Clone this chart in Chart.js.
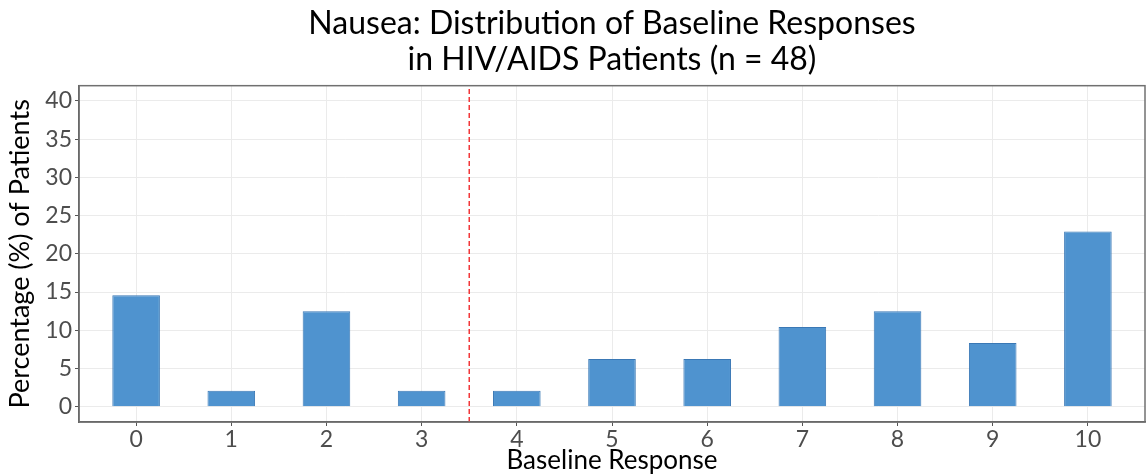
<!DOCTYPE html>
<html>
<head>
<meta charset="utf-8">
<script src="https://cdn.jsdelivr.net/npm/chart.js@4"></script>
<style>
  html, body { margin: 0; padding: 0; background: #fff; }
  #wrap { width: 1146px; height: 476px; }
</style>
</head>
<body>
<div id="wrap"><canvas id="chart1"></canvas></div>
<script>
// baseline response (0-10) vs percentage of patients, n = 48
const responses = [0, 1, 2, 3, 4, 5, 6, 7, 8, 9, 10];
const percents = [14.58, 2.08, 12.5, 2.08, 2.08, 6.25, 6.25, 10.42, 12.5, 8.33, 22.92];
const cutoff = 3.5;
const yMajor = [0, 5, 10, 15, 20, 25, 30, 35, 40];
const yMinor = [2.5, 7.5, 12.5, 17.5, 22.5, 27.5, 32.5, 37.5];
const titleLines = ['Nausea: Distribution of Baseline Responses', 'in HIV/AIDS Patients (n = 48)'];

const FONT = 'Lato, "Open Sans", sans-serif';

// panel border like ggplot
const panelBorder = {
  id: 'panelBorder',
  afterDraw(chart) {
    const a = chart.chartArea, c = chart.ctx;
    c.save();
    c.strokeStyle = '#707070';
    c.lineWidth = 1.5;
    c.strokeRect(a.left, a.top, a.right - a.left, a.bottom - a.top);
    c.restore();
  }
};

const ctx = document.getElementById('chart1').getContext('2d');
const chart1 = new Chart(ctx, {
  data: {
    datasets: [{
      type: 'bar',
      data: responses.map((r, i) => ({x: r, y: percents[i]})),
      backgroundColor: '#4f93cf',
      borderColor: '#3a78b5',
      borderWidth: 1,
      barPercentage: 0.5,
      categoryPercentage: 1.0,
      order: 2
    }, {
      type: 'line',
      data: [{x: cutoff, y: -2}, {x: cutoff, y: 42}],
      borderColor: '#f2383a',
      borderWidth: 1.5,
      borderDash: [5, 3],
      pointRadius: 0,
      order: 1
    }]
  },
  plugins: [panelBorder],
  options: {
    responsive: true,
    maintainAspectRatio: false,
    animation: false,
    layout: { padding: { left: 0, right: 1, top: 0, bottom: 0 } },
    plugins: {
      legend: { display: false },
      tooltip: { enabled: false },
      title: {
        display: true,
        fullSize: false,
        text: titleLines,
        color: '#000',
        font: { family: FONT, size: 32, weight: 'normal', lineHeight: 1.12 },
        padding: { top: 6, bottom: 8 }
      }
    },
    scales: {
      x: {
        type: 'linear',
        offset: false,
        min: -0.6,
        max: 10.6,
        afterBuildTicks: (s) => { s.ticks = responses.map(v => ({value: v})); },
        afterFit: (s) => { s.height = 54; },
        grid: { offset: false, color: '#ebebeb', lineWidth: 1, tickLength: 4, tickColor: '#555' },
        border: { display: true, color: '#555', width: 1.5 },
        ticks: { color: '#4d4d4d', font: { family: FONT, size: 23 }, padding: 0, maxRotation: 0 },
        title: {
          display: true,
          text: 'Baseline Response',
          color: '#000',
          font: { family: FONT, size: 26 },
          padding: { top: -4, bottom: 0 }
        }
      },
      y: {
        min: -2,
        max: 42,
        afterBuildTicks: (s) => {
          s.ticks = yMajor.concat(yMinor).sort((a, b) => a - b).map(v => ({value: v}));
        },
        afterFit: (s) => { s.width = 79; },
        grid: {
          color: (c) => (c.tick && c.tick.value % 5 === 0) ? '#ebebeb' : '#f4f4f4',
          lineWidth: 1,
          tickLength: 4,
          tickColor: (c) => (c.tick && c.tick.value % 5 === 0) ? '#555' : 'rgba(0,0,0,0)'
        },
        border: { display: true, color: '#555', width: 1.5 },
        ticks: {
          color: '#4d4d4d',
          font: { family: FONT, size: 23 },
          padding: 3,
          callback: (v) => yMajor.includes(v) ? v : ''
        },
        title: {
          display: true,
          text: 'Percentage (%) of Patients',
          color: '#000',
          font: { family: FONT, size: 27 },
          padding: { top: 4, bottom: 0 }
        }
      }
    }
  }
});
</script>
</body>
</html>
